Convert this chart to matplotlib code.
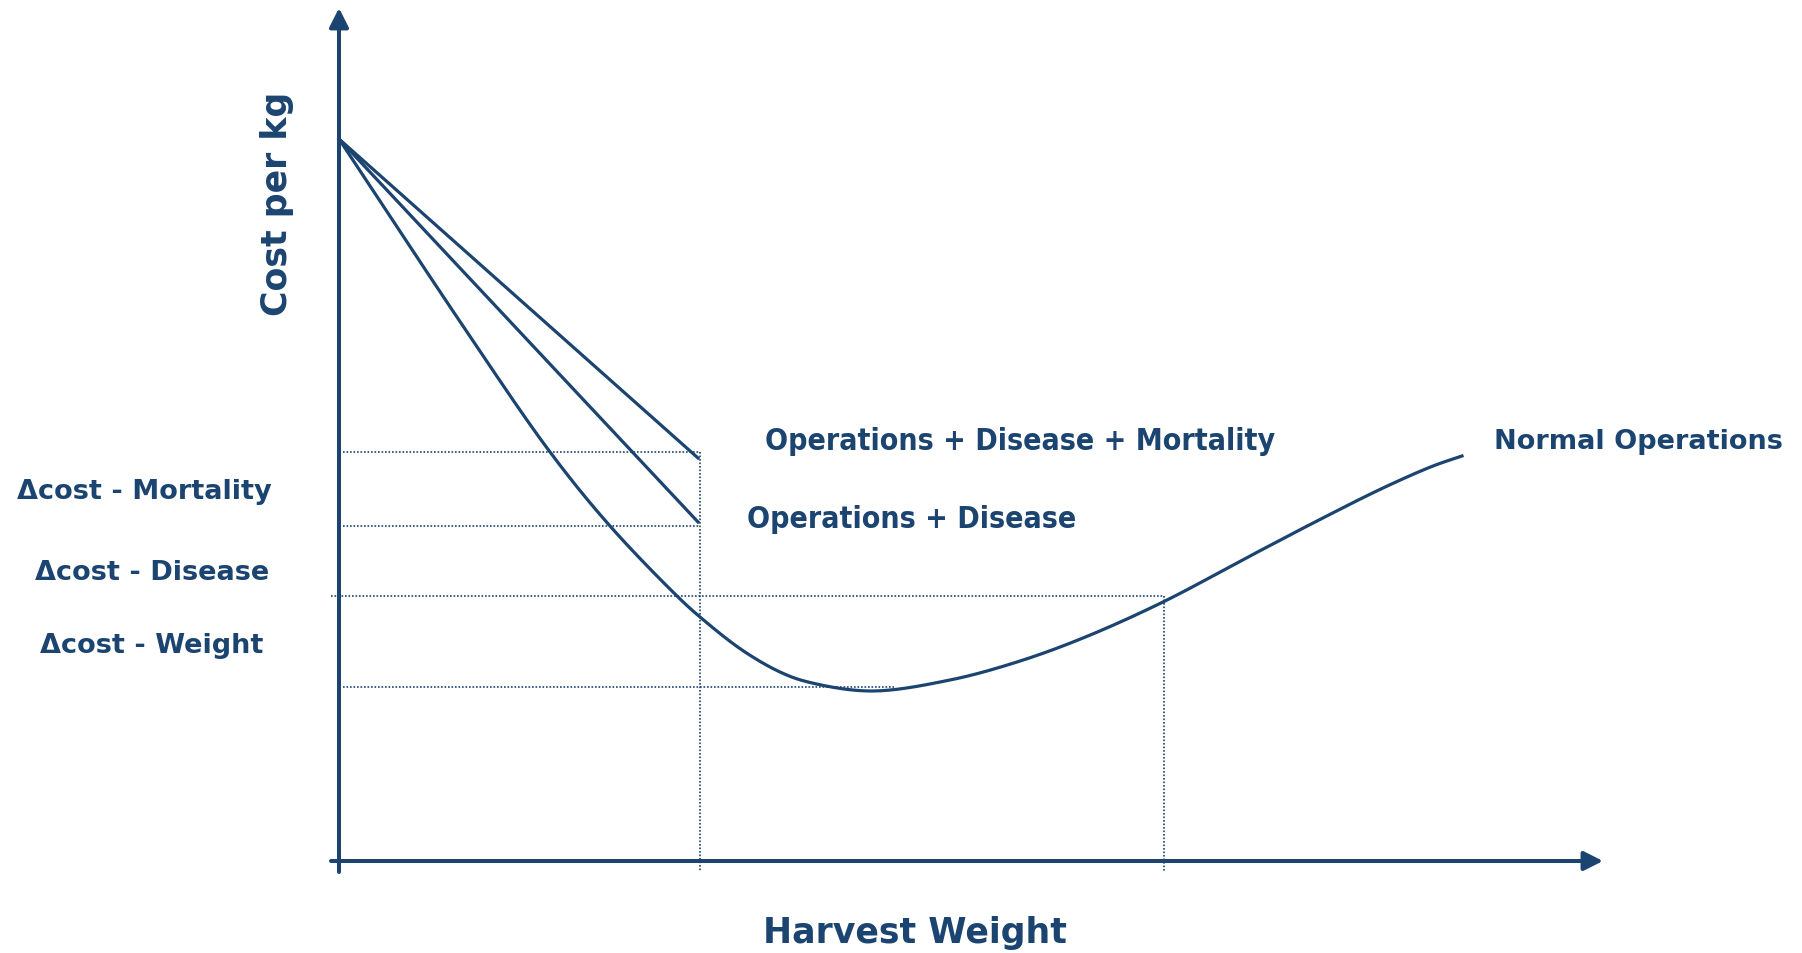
import numpy as np
import matplotlib
matplotlib.use("Agg")
import matplotlib.pyplot as plt

# colours / fonts
navy = "#1b4470"
bold = dict(family="DejaVu Sans", weight="bold", color=navy)
bold_cond = dict(family="DejaVu Sans", stretch="condensed", weight="bold", color=navy)

# ---- data (arbitrary units: harvest weight vs cost per kg) ----
start = (0.0, 7.22)
harvest_x = 3.61          # early harvest (disease)
optimum_x = 8.25          # weight matching the disease-free cost
cost_mortality = 4.09
cost_disease = 3.35
cost_weight = 2.65
cost_min = 1.74
min_x = 5.55

end_mortality = (3.59, 4.03)
end_disease = (3.59, 3.39)

normal_x = [0.00, 1.24, 2.11, 2.71, 3.38, 3.61, 4.03, 4.41, 4.69, 5.32,
            6.11, 6.78, 7.44, 8.24, 9.11, 9.78, 10.44, 10.94, 11.23]
normal_y = [7.22, 5.35, 4.09, 3.35, 2.65, 2.44, 2.11, 1.89, 1.79, 1.70,
            1.81, 1.99, 2.23, 2.59, 3.05, 3.40, 3.73, 3.95, 4.05]

curve_labels = ["Operations + Disease + Mortality", "Operations + Disease", "Normal Operations"]
delta_labels = ["\u0394cost - Mortality", "\u0394cost - Disease", "\u0394cost - Weight"]


def smooth(xs, ys, n=30):
    # centripetal catmull-rom through the read points
    p = np.column_stack([xs, ys])
    p = np.vstack([2 * p[0] - p[1], p, 2 * p[-1] - p[-2]])
    out = []
    for i in range(1, len(p) - 2):
        p0, p1, p2, p3 = p[i - 1], p[i], p[i + 1], p[i + 2]
        t0 = 0.0
        t1 = t0 + np.linalg.norm(p1 - p0) ** 0.5
        t2 = t1 + np.linalg.norm(p2 - p1) ** 0.5
        t3 = t2 + np.linalg.norm(p3 - p2) ** 0.5
        t = np.linspace(t1, t2, n, endpoint=False)[:, None]
        a1 = (t1 - t) / (t1 - t0) * p0 + (t - t0) / (t1 - t0) * p1
        a2 = (t2 - t) / (t2 - t1) * p1 + (t - t1) / (t2 - t1) * p2
        a3 = (t3 - t) / (t3 - t2) * p2 + (t - t2) / (t3 - t2) * p3
        b1 = (t2 - t) / (t2 - t0) * a1 + (t - t0) / (t2 - t0) * a2
        b2 = (t3 - t) / (t3 - t1) * a2 + (t - t1) / (t3 - t1) * a3
        out.append((t2 - t) / (t2 - t1) * b1 + (t - t1) / (t2 - t1) * b2)
    out.append(p[-2][None, :])
    out = np.vstack(out)
    return out[:, 0], out[:, 1]


fig = plt.figure(figsize=(18.02, 9.54), dpi=100)
ax = fig.add_axes([0, 0, 1, 1])
ax.set_xlim(-3.39, 14.63)
ax.set_ylim(-0.92, 8.62)
ax.axis("off")

# axes with arrows
arrow = dict(arrowstyle="-|>,head_length=1.15,head_width=0.58", lw=2.9, color=navy,
             shrinkA=0, shrinkB=0, mutation_scale=10)
ax.annotate("", xy=(12.64, 0), xytext=(-0.08, 0), arrowprops=arrow)
ax.annotate("", xy=(0, 8.53), xytext=(0, -0.11), arrowprops=arrow)

# dotted guides
dot = dict(color=navy, lw=1.2, ls=(0, (1, 1.1)))
ax.plot([0.04, harvest_x], [cost_mortality, cost_mortality], **dot)
ax.plot([0.04, harvest_x], [cost_disease, cost_disease], **dot)
ax.plot([-0.08, optimum_x], [cost_weight, cost_weight], **dot)
ax.plot([0.04, min_x], [cost_min, cost_min], **dot)
ax.plot([harvest_x, harvest_x], [cost_mortality, -0.11], **dot)
ax.plot([optimum_x, optimum_x], [cost_weight, -0.11], **dot)

# cost curves
ax.plot([start[0], end_mortality[0]], [start[1], end_mortality[1]], color=navy, lw=2.3)
ax.plot([start[0], end_disease[0]], [start[1], end_disease[1]], color=navy, lw=2.3)
sx, sy = smooth(normal_x, normal_y)
ax.plot(sx, sy, color=navy, lw=2.3)

# labels
ax.text(4.26, 4.12, curve_labels[0], fontsize=21.7, ha="left", va="baseline", **bold_cond)
ax.text(4.08, 3.34, curve_labels[1], fontsize=21.7, ha="left", va="baseline", **bold_cond)
ax.text(11.55, 4.13, curve_labels[2], fontsize=19.5, ha="left", va="baseline", **bold)

for lab, lx, ly in zip(delta_labels, [-1.945, -1.87, -1.87], [3.63, 2.82, 2.09]):
    ax.text(lx, ly, lab, fontsize=19.5, ha="center", va="baseline", **bold)

ax.text(-0.52, 6.58, "Cost per kg", fontsize=25, rotation=90, rotation_mode="anchor",
        ha="center", va="baseline", **bold)
ax.text(5.76, -0.81, "Harvest Weight", fontsize=25, ha="center", va="baseline", **bold)

fig.savefig("out.png", dpi=100, facecolor="white")
